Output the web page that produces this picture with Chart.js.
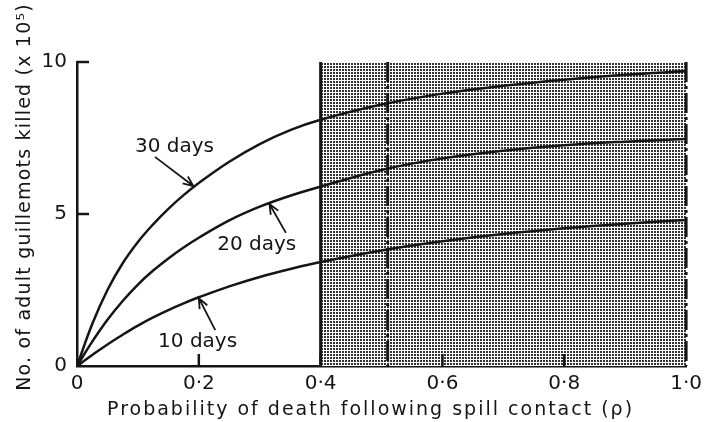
<!DOCTYPE html>
<html>
<head>
<meta charset="utf-8">
<script src="https://cdn.jsdelivr.net/npm/chart.js@4.4.1/dist/chart.umd.min.js"></script>
<style>
  html, body { margin: 0; padding: 0; background: #fff; }
  #wrap { width: 708px; height: 422px; }
</style>
</head>
<body>
<div id="wrap"><canvas id="chart"></canvas></div>
<script>
// values (x = probability of death, y = birds killed x 10^5)
const probability = [0, 0.025, 0.05, 0.075, 0.1, 0.125, 0.15, 0.175, 0.2, 0.25, 0.3, 0.35, 0.4, 0.5, 0.6, 0.7, 0.8, 0.9, 1.0];
const killed30 = [0, 1.38, 2.5, 3.38, 4.08, 4.66, 5.17, 5.62, 6.02, 6.72, 7.3, 7.76, 8.1, 8.6, 8.96, 9.22, 9.42, 9.58, 9.7];
const killed20 = [0, 0.8, 1.52, 2.14, 2.68, 3.14, 3.54, 3.9, 4.22, 4.79, 5.24, 5.6, 5.9, 6.45, 6.83, 7.08, 7.26, 7.38, 7.47];
const killed10 = [0, 0.36, 0.71, 1.03, 1.33, 1.6, 1.84, 2.06, 2.26, 2.62, 2.93, 3.19, 3.42, 3.8, 4.1, 4.34, 4.53, 4.68, 4.8];
const seriesNames = ['30 days', '20 days', '10 days'];
const xTicks = [0, 0.2, 0.4, 0.6, 0.8, 1.0];
const yTicks = [0, 5, 10];
const shadeFrom = 0.4;
const shadeTo = 1.0;
const shadeTop = 10;
const markAt = 0.51;

// label / arrow placement in data units: [labelX, labelY, tailX, tailY, tipX, tipY]
const notes = [
  [0.16, 7.2, 0.128, 6.88, 0.191, 5.92],
  [0.295, 4.0, 0.343, 4.38, 0.316, 5.33],
  [0.198, 0.79, 0.227, 1.18, 0.2, 2.23]
];

const INK = '#151515';
const FONT = '"DejaVu Sans", "Liberation Sans", sans-serif';

function toPoints(ys) {
  return probability.map((p, i) => ({ x: p, y: ys[i] }));
}

function fmt(v) {
  if (v === 0) return '0';
  return v.toFixed(1).replace('.', '\u00b7');
}

function dotPattern(ctx) {
  const c = document.createElement('canvas');
  c.width = 3;
  c.height = 3;
  const g = c.getContext('2d');
  g.fillStyle = '#fff';
  g.fillRect(0, 0, 3, 3);
  g.fillStyle = '#333';
  g.fillRect(0, 0, 2, 2);
  return ctx.createPattern(c, 'repeat');
}

const shadePlugin = {
  id: 'shade',
  beforeDatasetsDraw(chart) {
    const { ctx, scales: { x, y } } = chart;
    const left = x.getPixelForValue(shadeFrom);
    const right = x.getPixelForValue(shadeTo);
    const top = y.getPixelForValue(shadeTop);
    const bottom = y.getPixelForValue(0);
    ctx.save();
    ctx.fillStyle = dotPattern(ctx);
    ctx.fillRect(left, top, right - left, bottom - top);
    ctx.strokeStyle = INK;
    ctx.lineWidth = 3;
    ctx.beginPath();
    ctx.moveTo(left, top);
    ctx.lineTo(left, bottom);
    ctx.stroke();
    ctx.setLineDash([20, 4, 3, 4]);
    [markAt, shadeTo].forEach(v => {
      const px = x.getPixelForValue(v);
      ctx.beginPath();
      ctx.moveTo(px, top);
      ctx.lineTo(px, bottom);
      ctx.stroke();
    });
    ctx.restore();
  }
};

const decorPlugin = {
  id: 'decor',
  afterDraw(chart) {
    const { ctx, scales: { x, y } } = chart;
    const area = chart.chartArea;
    const x0 = x.getPixelForValue(0);
    const y0 = y.getPixelForValue(0);
    ctx.save();
    ctx.strokeStyle = INK;
    ctx.lineWidth = 2.5;
    // inward tick marks
    yTicks.filter(v => v > 0).forEach(v => {
      const py = y.getPixelForValue(v);
      ctx.beginPath();
      ctx.moveTo(x0, py);
      ctx.lineTo(x0 + 12, py);
      ctx.stroke();
    });
    xTicks.filter(v => v > 0 && v < 1).forEach(v => {
      const px = x.getPixelForValue(v);
      ctx.beginPath();
      ctx.moveTo(px, y0);
      ctx.lineTo(px, y0 - 12);
      ctx.stroke();
    });

    // curve labels with arrows
    ctx.fillStyle = INK;
    ctx.font = '20px ' + FONT;
    ctx.textAlign = 'center';
    ctx.textBaseline = 'middle';
    ctx.lineWidth = 1.8;
    notes.forEach((n, i) => {
      ctx.fillText(seriesNames[i], x.getPixelForValue(n[0]), y.getPixelForValue(n[1]));
      const tx = x.getPixelForValue(n[2]), ty = y.getPixelForValue(n[3]);
      const hx = x.getPixelForValue(n[4]), hy = y.getPixelForValue(n[5]);
      const ang = Math.atan2(hy - ty, hx - tx);
      ctx.beginPath();
      ctx.moveTo(tx, ty);
      ctx.lineTo(hx, hy);
      ctx.moveTo(hx - 11 * Math.cos(ang - 0.4), hy - 11 * Math.sin(ang - 0.4));
      ctx.lineTo(hx, hy);
      ctx.lineTo(hx - 11 * Math.cos(ang + 0.4), hy - 11 * Math.sin(ang + 0.4));
      ctx.stroke();
    });

    // axis titles, spaced out like the lettering in the original
    ctx.font = '19px ' + FONT;
    ctx.letterSpacing = '2px';
    ctx.fillText('Probability of death following spill contact (\u03c1)', (area.left + area.right) / 2 - 11, 410);
    ctx.letterSpacing = '1.2px';
    ctx.translate(25, (area.top + area.bottom) / 2 - 17);
    ctx.rotate(-Math.PI / 2);
    ctx.fillText('No. of adult guillemots killed (x 10\u2075)', 0, 0);
    ctx.restore();
  }
};

const lineStyle = {
  borderColor: INK,
  borderWidth: 2.5,
  pointRadius: 0,
  fill: false,
  tension: 0.4
};

new Chart(document.getElementById('chart'), {
  type: 'line',
  data: {
    datasets: [
      { label: seriesNames[0], data: toPoints(killed30), ...lineStyle },
      { label: seriesNames[1], data: toPoints(killed20), ...lineStyle },
      { label: seriesNames[2], data: toPoints(killed10), ...lineStyle }
    ]
  },
  options: {
    responsive: true,
    maintainAspectRatio: false,
    animation: false,
    layout: { padding: { top: 62, right: 21, left: 0, bottom: 0 } },
    plugins: {
      legend: { display: false },
      tooltip: { enabled: false }
    },
    scales: {
      x: {
        type: 'linear',
        min: 0,
        max: 1,
        afterBuildTicks: s => { s.ticks = xTicks.map(v => ({ value: v })); },
        afterFit: s => { s.height = 56; },
        grid: { display: false, drawTicks: false },
        border: { display: true, color: INK, width: 2.5 },
        ticks: {
          color: INK,
          padding: 6,
          maxRotation: 0,
          font: { family: FONT, size: 20 },
          callback: v => fmt(v)
        }
      },
      y: {
        min: 0,
        max: 10,
        afterBuildTicks: s => { s.ticks = yTicks.map(v => ({ value: v })); },
        afterFit: s => { s.width = 77; },
        grid: { display: false, drawTicks: false },
        border: { display: true, color: INK, width: 2.5 },
        ticks: {
          color: INK,
          padding: 10,
          font: { family: FONT, size: 20 },
          callback: v => String(v)
        }
      }
    }
  },
  plugins: [shadePlugin, decorPlugin]
});
</script>
</body>
</html>
